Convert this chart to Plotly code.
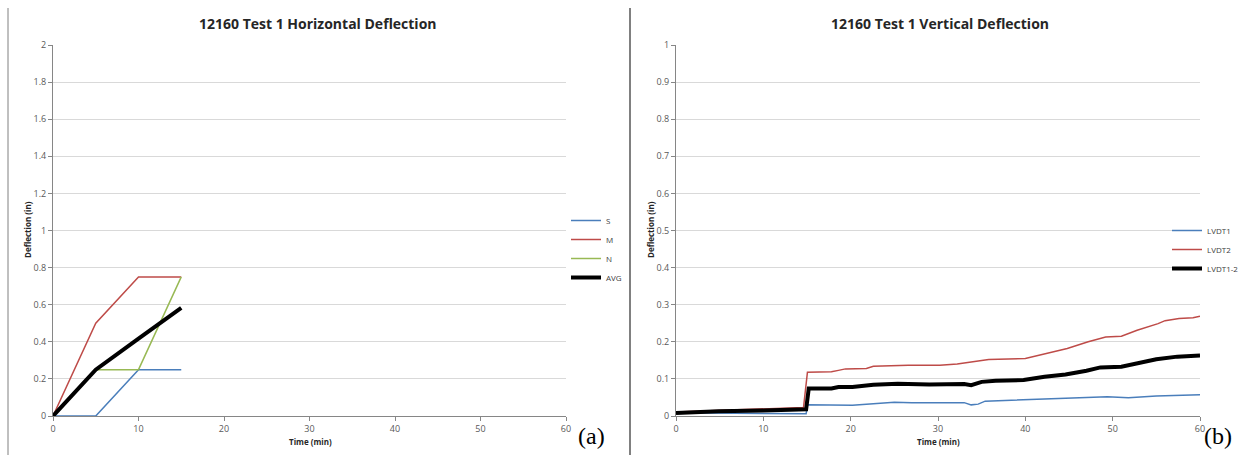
import plotly.graph_objects as go

# ---- Left chart (horizontal deflection) ----
h_time = [0, 5, 10, 15]
h_S = [0, 0, 0.25, 0.25]
h_M = [0, 0.5, 0.75, 0.75]
h_N = [0, 0.25, 0.25, 0.75]
h_AVG = [0, 0.25, 0.417, 0.583]

# ---- Right chart (vertical deflection) ----
v1_time = [0, 5, 10, 14.9, 15.05, 17.8, 20.2, 22.6, 25, 27, 30, 33, 33.8, 34.6, 35.4, 39.8, 44.6, 49.4, 51.8, 55, 59, 60]
v1_vals = [0.009, 0.008, 0.006, 0.006, 0.030, 0.029, 0.029, 0.033, 0.037, 0.036, 0.036, 0.036, 0.030, 0.032, 0.040, 0.043, 0.048, 0.052, 0.049, 0.054, 0.057, 0.057]

v2_time = [0, 4.9, 10, 14.6, 15.05, 17.8, 18.6, 19.4, 21.8, 22.6, 26.6, 29, 30.2, 32.2, 34.2, 35.8, 40, 42.4, 44.8, 47.2, 49.2, 51, 52.8, 55.2, 56, 57.6, 59.2, 60]
v2_vals = [0.011, 0.015, 0.020, 0.023, 0.118, 0.119, 0.123, 0.127, 0.128, 0.134, 0.137, 0.138, 0.137, 0.140, 0.146, 0.152, 0.155, 0.169, 0.182, 0.200, 0.213, 0.215, 0.231, 0.249, 0.257, 0.263, 0.265, 0.269]

v12_time = [0, 4.9, 10, 14.9, 15.2, 17.8, 18.6, 20.2, 22.6, 25.4, 29, 33, 33.8, 35, 36.6, 39.8, 42.2, 44.6, 47, 48.6, 51, 52.6, 55, 57.4, 60]
v12_vals = [0.008, 0.013, 0.015, 0.018, 0.074, 0.074, 0.078, 0.078, 0.084, 0.087, 0.085, 0.086, 0.083, 0.092, 0.095, 0.097, 0.106, 0.112, 0.122, 0.131, 0.133, 0.142, 0.153, 0.160, 0.163]

x_ticks = [0, 10, 20, 30, 40, 50, 60]
yl_ticks = [0, 0.2, 0.4, 0.6, 0.8, 1, 1.2, 1.4, 1.6, 1.8, 2]
yr_ticks = [0, 0.1, 0.2, 0.3, 0.4, 0.5, 0.6, 0.7, 0.8, 0.9, 1]

BLUE = "#4A7EBB"
RED = "#BE4B48"
GREEN = "#98B954"
FONT = "Open Sans"

fig = go.Figure()
fig.add_trace(go.Scatter(x=h_time, y=h_S, name="S", mode="lines", line=dict(color=BLUE, width=1.5), xaxis="x", yaxis="y", legend="legend"))
fig.add_trace(go.Scatter(x=h_time, y=h_M, name="M", mode="lines", line=dict(color=RED, width=1.5), xaxis="x", yaxis="y", legend="legend"))
fig.add_trace(go.Scatter(x=h_time, y=h_N, name="N", mode="lines", line=dict(color=GREEN, width=1.5), xaxis="x", yaxis="y", legend="legend"))
fig.add_trace(go.Scatter(x=h_time, y=h_AVG, name="AVG", mode="lines", line=dict(color="black", width=4), xaxis="x", yaxis="y", legend="legend"))

fig.add_trace(go.Scatter(x=v1_time, y=v1_vals, name="LVDT1", mode="lines", line=dict(color=BLUE, width=1.5), xaxis="x2", yaxis="y2", legend="legend2"))
fig.add_trace(go.Scatter(x=v2_time, y=v2_vals, name="LVDT2", mode="lines", line=dict(color=RED, width=1.5), xaxis="x2", yaxis="y2", legend="legend2"))
fig.add_trace(go.Scatter(x=v12_time, y=v12_vals, name="LVDT1-2", mode="lines", line=dict(color="black", width=4), xaxis="x2", yaxis="y2", legend="legend2"))

W, H = 1247, 455
def px(x): return x / W
def py(y): return 1 - y / H

axis_common = dict(showgrid=False, showline=True, linecolor="#868686", linewidth=1, automargin=False,
                   ticks="outside", ticklen=4, tickcolor="#868686",
                   tickfont=dict(family=FONT, size=9, color="#595959"), zeroline=False)
yaxis_common = dict(showgrid=True, gridcolor="#d9d9d9", gridwidth=1, showline=True, linecolor="#868686",
                    automargin=False, ticks="outside", ticklen=4, tickcolor="#868686",
                    tickfont=dict(family=FONT, size=9, color="#595959"), zeroline=False)

fig.update_layout(
    width=W, height=H,
    margin=dict(l=0, r=0, t=0, b=0, autoexpand=False),
    paper_bgcolor="white", plot_bgcolor="white",
    xaxis=dict(domain=[px(53), px(566)], range=[0, 60], tickvals=x_ticks, anchor="y", **axis_common),
    yaxis=dict(domain=[py(416), py(45)], range=[0, 2], tickvals=yl_ticks, anchor="x", **yaxis_common),
    xaxis2=dict(domain=[px(676), px(1200)], range=[0, 60], tickvals=x_ticks, anchor="y2", **axis_common),
    yaxis2=dict(domain=[py(416), py(45)], range=[0, 1], tickvals=yr_ticks, anchor="x2", **yaxis_common),
    legend=dict(x=px(566), y=py(206), xanchor="left", yanchor="top", bgcolor="rgba(0,0,0,0)",
                font=dict(family=FONT, size=8, color="#404040"), tracegroupgap=0, itemwidth=30),
    legend2=dict(x=px(1167), y=py(216), xanchor="left", yanchor="top", bgcolor="rgba(0,0,0,0)",
                 font=dict(family=FONT, size=8, color="#404040"), tracegroupgap=0, itemwidth=30),
    showlegend=True,
)

def ann(text, x, y, size, family=FONT, color="#262626", angle=0):
    return dict(text=text, x=px(x), y=py(y), xref="paper", yref="paper", xanchor="center", yanchor="middle",
                textangle=angle, showarrow=False, font=dict(family=family, size=size, color=color))

annotations = [
    ann("<b>12160 Test 1 Horizontal Deflection</b>", 318, 23, 14),
    ann("<b>12160 Test 1 Vertical Deflection</b>", 940, 23, 14),
    ann("<b>Time (min)</b>", 310, 441, 8),
    ann("<b>Time (min)</b>", 938, 441, 8),
    ann("<b>Deflection (in)</b>", 27, 230, 8, angle=-90),
    ann("<b>Deflection (in)</b>", 650, 230, 8, angle=-90),
    ann("(a)", 591, 436, 24, family="Liberation Serif", color="black"),
    ann("(b)", 1218, 436, 24, family="Liberation Serif", color="black"),
]
fig.update_layout(annotations=annotations)

shapes = [
    dict(type="line", xref="paper", yref="paper", x0=px(8), x1=px(8), y0=py(8), y1=0,
         line=dict(color="#808080", width=1)),
    dict(type="line", xref="paper", yref="paper", x0=px(630), x1=px(630), y0=py(8), y1=0,
         line=dict(color="#808080", width=2)),
]
fig.update_layout(shapes=shapes)

fig.write_html("out.html", config={"displayModeBar": False},
               post_script="document.body.style.margin='0';document.body.style.overflow='hidden';")
